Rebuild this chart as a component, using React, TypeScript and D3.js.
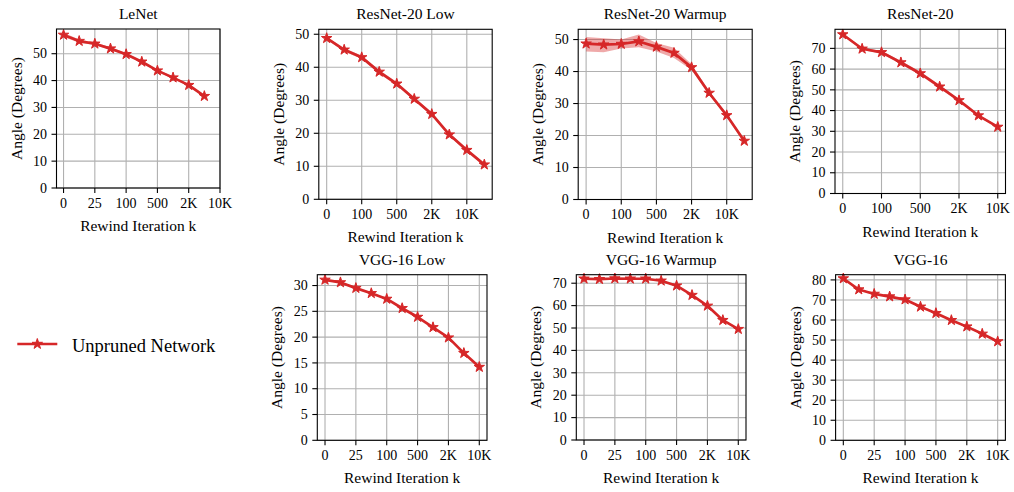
import React from "react";
import * as d3 from "d3";

// ---------- data ----------
const ticksShort = ["0", "100", "500", "2K", "10K"];
const ticksLong = ["0", "25", "100", "500", "2K", "10K"];

const lenetMean = [57.0, 54.7, 53.7, 51.9, 49.8, 47.0, 43.7, 41.1, 38.3, 34.2];
const lenetStd = [0.8, 0.6, 0.5, 0.5, 0.4, 0.4, 0.4, 0.4, 0.4, 0.4];

const resLowMean = [48.8, 45.3, 43.0, 38.6, 35.0, 30.4, 25.8, 19.6, 14.9, 10.5];
const resLowStd = [0.4, 0.5, 0.5, 0.6, 0.5, 0.5, 0.5, 0.4, 0.4, 0.4];

const resWarmMean = [48.7, 48.4, 48.6, 49.4, 47.7, 45.8, 41.3, 33.3, 26.3, 18.3];
const resWarmUpper = [50.8, 50.4, 50.0, 51.6, 48.9, 47.4, 42.3, 33.9, 26.8, 18.8];
const resWarmLower = [46.3, 46.0, 47.2, 47.6, 46.3, 44.2, 40.5, 32.8, 25.8, 17.8];

const resMean = [76.7, 69.8, 68.1, 63.2, 57.9, 51.5, 44.9, 37.6, 32.1];
const resStd = [0.6, 0.6, 0.6, 0.7, 0.9, 0.8, 0.6, 0.5, 0.5];

const vggLowMean = [31.1, 30.6, 29.5, 28.5, 27.4, 25.6, 23.9, 21.9, 19.9, 16.9, 14.2];
const vggLowStd = [0.15, 0.15, 0.15, 0.15, 0.15, 0.15, 0.15, 0.15, 0.15, 0.15, 0.15];

const vggWarmMean = [72.0, 71.8, 72.1, 72.0, 72.0, 71.1, 68.9, 64.7, 59.9, 53.5, 49.5];
const vggWarmStd = [0.3, 0.3, 0.3, 0.3, 0.3, 0.3, 0.3, 0.3, 0.3, 0.3, 0.3];

const vggMean = [80.7, 75.2, 73.0, 71.7, 70.2, 66.6, 63.4, 59.9, 56.7, 53.1, 49.3];
const vggStd = [0.4, 0.4, 0.4, 0.4, 0.4, 0.4, 0.4, 0.4, 0.4, 0.4, 0.4];

const yTicks10_50 = [0, 10, 20, 30, 40, 50];
const yTicks10_70 = [0, 10, 20, 30, 40, 50, 60, 70];
const yTicks10_80 = [0, 10, 20, 30, 40, 50, 60, 70, 80];
const yTicks5_30 = [0, 5, 10, 15, 20, 25, 30];

const legendLabel = "Unpruned Network";
const xLabel = "Rewind Iteration k";
const yLabel = "Angle (Degrees)";

// ---------- panels (layout separate from data) ----------
type Panel = {
  title: string;
  mean: number[];
  lower: number[];
  upper: number[];
  xTickLabels: string[];
  yTicks: number[];
  xDomain: [number, number];
  yMax: number;
  box: { l: number; r: number; t: number; b: number };
};

const withStd = (m: number[], s: number[]) => ({
  lower: m.map((v, i) => v - s[i]),
  upper: m.map((v, i) => v + s[i]),
});

const panels: Panel[] = [
  { title: "LeNet", mean: lenetMean, ...withStd(lenetMean, lenetStd), xTickLabels: ticksLong, yTicks: yTicks10_50,
    xDomain: [-0.45, 10], yMax: 59.2, box: { l: 56.5, r: 220, t: 29, b: 188 } },
  { title: "ResNet-20 Low", mean: resLowMean, ...withStd(resLowMean, resLowStd), xTickLabels: ticksShort, yTicks: yTicks10_50,
    xDomain: [-0.45, 9.45], yMax: 51.5, box: { l: 318.8, r: 492.2, t: 29.3, b: 199.3 } },
  { title: "ResNet-20 Warmup", mean: resWarmMean, lower: resWarmLower, upper: resWarmUpper, xTickLabels: ticksShort, yTicks: yTicks10_50,
    xDomain: [-0.45, 9.45], yMax: 53.2, box: { l: 578.2, r: 752.2, t: 29.3, b: 199.5 } },
  { title: "ResNet-20", mean: resMean, ...withStd(resMean, resStd), xTickLabels: ticksShort, yTicks: yTicks10_70,
    xDomain: [-0.4, 8.4], yMax: 79.2, box: { l: 835, r: 1005.5, t: 29.3, b: 193.5 } },
  { title: "VGG-16 Low", mean: vggLowMean, ...withStd(vggLowMean, vggLowStd), xTickLabels: ticksLong, yTicks: yTicks5_30,
    xDomain: [-0.5, 10.5], yMax: 32.1, box: { l: 317.3, r: 487, t: 274.7, b: 440.3 } },
  { title: "VGG-16 Warmup", mean: vggWarmMean, ...withStd(vggWarmMean, vggWarmStd), xTickLabels: ticksLong, yTicks: yTicks10_70,
    xDomain: [-0.5, 10.5], yMax: 73.8, box: { l: 576.3, r: 746, t: 274.7, b: 440 } },
  { title: "VGG-16", mean: vggMean, ...withStd(vggMean, vggStd), xTickLabels: ticksLong, yTicks: yTicks10_80,
    xDomain: [-0.5, 10.5], yMax: 82.6, box: { l: 835.6, r: 1005.4, t: 274.7, b: 440.3 } },
];

const RED = "#d62728";
const GRID = "#b0b0b0";
const FONT = "'Liberation Serif', 'Times New Roman', Times, serif";
const star = d3.symbol(d3.symbolStar, 34)() as string;

function PanelView({ p }: { p: Panel }) {
  const { l, r, t, b } = p.box;
  const x = d3.scaleLinear().domain(p.xDomain).range([l, r]);
  const y = d3.scaleLinear().domain([0, p.yMax]).range([b, t]);
  const idx = p.mean.map((_, i) => i);
  const line = d3.line<number>().x((i) => x(i)).y((i) => y(p.mean[i]));
  const area = d3
    .area<number>()
    .x((i) => x(i))
    .y0((i) => y(p.lower[i]))
    .y1((i) => y(p.upper[i]));
  const xTickPos = p.xTickLabels.map((_, k) => k * 2);
  const clipId = `clip-${p.title.replace(/[^a-zA-Z0-9]/g, "")}`;
  return (
    <g>
      <defs>
        <clipPath id={clipId}>
          <rect x={l} y={t} width={r - l} height={b - t} />
        </clipPath>
      </defs>
      {/* grid */}
      {xTickPos.map((v) => (
        <line key={"gx" + v} x1={x(v)} x2={x(v)} y1={t} y2={b} stroke={GRID} strokeWidth={1.1} />
      ))}
      {p.yTicks.map((v) => (
        <line key={"gy" + v} x1={l} x2={r} y1={y(v)} y2={y(v)} stroke={GRID} strokeWidth={1.1} />
      ))}
      {/* data */}
      <g clipPath={`url(#${clipId})`}>
        <path d={area(idx) as string} fill={RED} fillOpacity={0.4} stroke="none" />
        <path d={line(idx) as string} fill="none" stroke={RED} strokeWidth={2.7} strokeLinejoin="round" />
      </g>
      {idx.map((i) => (
        <path
          key={"m" + i}
          d={star}
          transform={`translate(${x(i)},${y(p.mean[i])})`}
          fill={RED}
          stroke={RED}
          strokeWidth={1}
        />
      ))}
      {/* frame */}
      <rect x={l} y={t} width={r - l} height={b - t} fill="none" stroke="#000" strokeWidth={1.1} />
      {/* ticks */}
      {xTickPos.map((v, k) => (
        <g key={"tx" + v}>
          <line x1={x(v)} x2={x(v)} y1={b} y2={b + 5} stroke="#000" strokeWidth={1.1} />
          <text x={x(v)} y={b + 19.8} textAnchor="middle" fontSize={14} fontFamily={FONT} fill="#000">
            {p.xTickLabels[k]}
          </text>
        </g>
      ))}
      {p.yTicks.map((v) => (
        <g key={"ty" + v}>
          <line x1={l - 5} x2={l} y1={y(v)} y2={y(v)} stroke="#000" strokeWidth={1.1} />
          <text x={l - 9.5} y={y(v) + 4.7} textAnchor="end" fontSize={14} fontFamily={FONT} fill="#000">
            {v}
          </text>
        </g>
      ))}
      {/* labels */}
      <text x={(l + r) / 2} y={t - 10} textAnchor="middle" fontSize={15.5} fontFamily={FONT} fill="#000">
        {p.title}
      </text>
      <text x={(l + r) / 2} y={b + 43} textAnchor="middle" fontSize={15.5} fontFamily={FONT} fill="#000">
        {xLabel}
      </text>
      <text
        transform={`translate(${l - 35},${(t + b) / 2}) rotate(-90)`}
        textAnchor="middle"
        fontSize={15.5}
        fontFamily={FONT}
        fill="#000"
      >
        {yLabel}
      </text>
    </g>
  );
}

export default function App() {
  return (
    <svg
      width={1014}
      height={492}
      viewBox="0 0 1014 492"
      style={{ position: "absolute", left: 0, top: 0, background: "#fff" }}
    >
      <rect x={0} y={0} width={1014} height={492} fill="#fff" />
      {panels.map((p) => (
        <PanelView key={p.title} p={p} />
      ))}
      {/* legend */}
      <g>
        <line x1={17.3} x2={57.3} y1={344} y2={344} stroke={RED} strokeWidth={2.7} />
        <path d={star} transform="translate(37.3,344)" fill={RED} stroke={RED} strokeWidth={1} />
        <text x={72} y={351.5} fontSize={18.5} fontFamily={FONT} fill="#000">
          {legendLabel}
        </text>
      </g>
    </svg>
  );
}
